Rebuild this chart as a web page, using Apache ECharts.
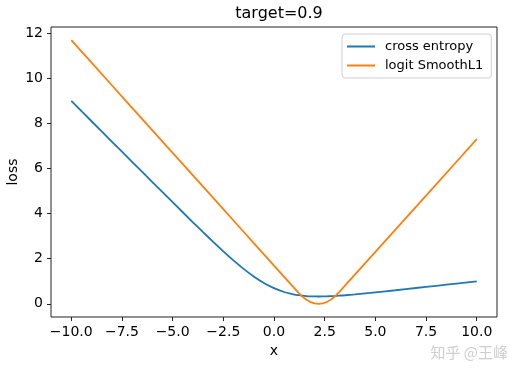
<!DOCTYPE html>
<html>
<head>
<meta charset="utf-8">
<script src="https://cdn.jsdelivr.net/npm/echarts@6/dist/echarts.min.js"></script>
<style>
  html, body { margin: 0; padding: 0; background: #fff; }
  #chart { width: 522px; height: 377px; }
</style>
</head>
<body>
<div id="chart"></div>
<script>
// x samples (denser near the minimum)
const xs = [-10, -9, -8, -7, -6, -5, -4, -3.5, -3, -2.5, -2, -1.5, -1, -0.5, 0, 0.5, 1,
  1.2, 1.4, 1.6, 1.8, 2, 2.2, 2.4, 2.6, 2.8, 3, 3.2, 3.5, 4, 5, 6, 7, 8, 9, 10];

// cross entropy loss
const crossEntropy = [9.0, 8.1, 7.2, 6.301, 5.402, 4.507, 3.618, 3.18, 2.749, 2.329, 1.927, 1.551, 1.213, 0.924, 0.693, 0.524, 0.413,
  0.383, 0.36, 0.344, 0.333, 0.327, 0.325, 0.327, 0.332, 0.339, 0.349, 0.36, 0.38, 0.418, 0.507, 0.602, 0.701, 0.8, 0.9, 1.0];

// logit SmoothL1 loss
const smoothL1 = [11.697, 10.697, 9.697, 8.697, 7.697, 6.697, 5.697, 5.197, 4.697, 4.197, 3.697, 3.197, 2.697, 2.197, 1.697, 1.197, 0.697,
  0.497, 0.318, 0.178, 0.079, 0.019, 0.0, 0.021, 0.081, 0.182, 0.322, 0.503, 0.803, 1.303, 2.303, 3.303, 4.303, 5.303, 6.303, 7.303];

const xTicks = [-10, -7.5, -5, -2.5, 0, 2.5, 5, 7.5, 10];
const yTicks = [0, 2, 4, 6, 8, 10, 12];

const font = 'DejaVu Sans';
const chart = echarts.init(document.getElementById('chart'));

const pairs = (ys) => xs.map((x, i) => [x, ys[i]]);

chart.setOption({
  animation: false,
  backgroundColor: '#fff',
  title: {
    text: 'target=0.9',
    left: 274,
    textAlign: 'center',
    top: 1,
    textStyle: { fontFamily: font, fontSize: 16, fontWeight: 'normal', color: '#000' }
  },
  legend: {
    left: 342,
    top: 34,
    orient: 'vertical',
    data: ['cross entropy', 'logit SmoothL1'],
    icon: 'rect',
    itemWidth: 28,
    itemHeight: 2,
    itemGap: 4,
    padding: [5, 8, 5, 5],
    backgroundColor: '#fff',
    borderColor: '#d0d0d0',
    borderWidth: 1,
    borderRadius: 3,
    textStyle: { fontFamily: font, fontSize: 13, color: '#000', lineHeight: 15, padding: [0, 0, 0, 5] }
  },
  grid: {
    left: 51, right: 25, top: 27, bottom: 60,
    outerBoundsMode: 'none',
    containLabel: false,
    show: true,
    borderColor: '#222',
    borderWidth: 1
  },
  xAxis: {
    type: 'value',
    min: -11,
    max: 11,
    name: 'x',
    nameLocation: 'middle',
    nameGap: 27,
    nameMoveOverlap: false,
    nameTextStyle: { fontFamily: font, fontSize: 14, color: '#000' },
    axisLine: { show: false, onZero: false },
    splitLine: { show: false },
    axisTick: { show: true, length: 4, customValues: xTicks, lineStyle: { color: '#222' } },
    axisLabel: {
      customValues: xTicks,
      margin: 8,
      fontFamily: font, fontSize: 14, color: '#000',
      formatter: (v) => (v < 0 ? '\u2212' : '') + Math.abs(v).toFixed(1)
    }
  },
  yAxis: {
    type: 'value',
    min: -0.585,
    max: 12.282,
    name: 'loss',
    nameLocation: 'middle',
    nameGap: 31,
    nameMoveOverlap: false,
    nameTextStyle: { fontFamily: font, fontSize: 14, color: '#000' },
    axisLine: { show: false, onZero: false },
    splitLine: { show: false },
    axisTick: { show: true, length: 4, customValues: yTicks, lineStyle: { color: '#222' } },
    axisLabel: {
      customValues: yTicks,
      margin: 8,
      fontFamily: font, fontSize: 14, color: '#000',
      formatter: (v) => String(v)
    }
  },
  series: [
    {
      name: 'cross entropy',
      type: 'line',
      data: pairs(crossEntropy),
      showSymbol: false,
      smooth: 0.3,
      color: '#1f77b4',
      lineStyle: { width: 1.8, color: '#1f77b4' }
    },
    {
      name: 'logit SmoothL1',
      type: 'line',
      data: pairs(smoothL1),
      showSymbol: false,
      color: '#ff7f0e',
      lineStyle: { width: 1.8, color: '#ff7f0e' }
    }
  ],
  graphic: [{
    type: 'text',
    right: 14,
    top: 345,
    style: {
      text: '知乎 @王峰',
      font: '15px "Noto Sans CJK SC"',
      fill: '#cfcfcf'
    }
  }]
});
</script>
</body>
</html>
